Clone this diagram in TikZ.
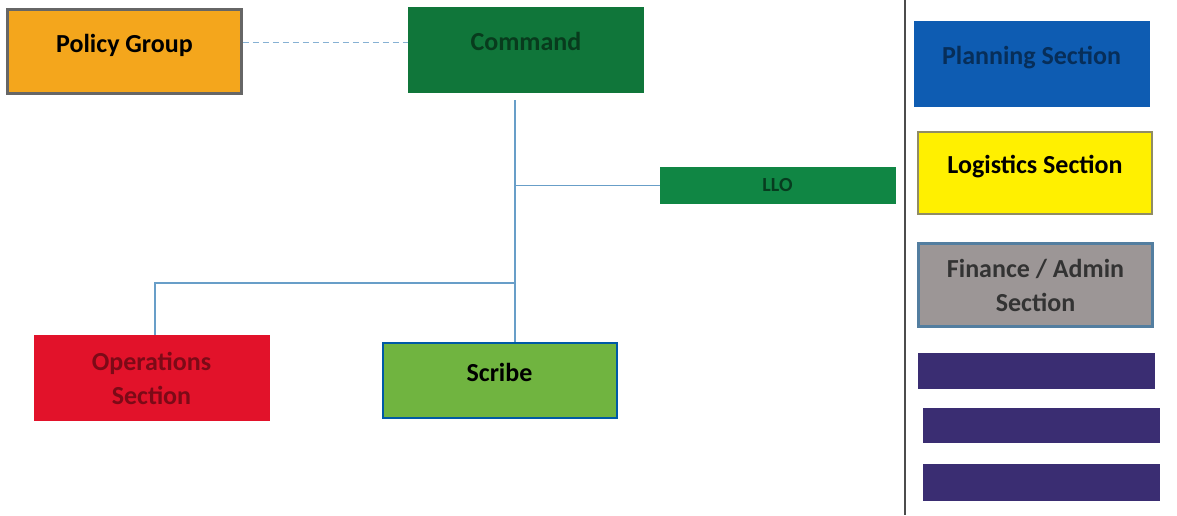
\documentclass[tikz,border=0pt]{standalone}
\usepackage{fontspec}
\setmainfont{Carlito}
\usepackage{tikz}
\usetikzlibrary{calc}
\definecolor{policyfill}{RGB}{244, 166, 28}
\definecolor{cmdgreen}{RGB}{16, 118, 58}
\definecolor{liogreen}{RGB}{16, 134, 68}
\definecolor{opsred}{RGB}{226, 18, 42}
\definecolor{scribegreen}{RGB}{112, 180, 64}
\definecolor{planblue}{RGB}{14, 92, 178}
\definecolor{logyellow}{RGB}{255, 240, 0}
\definecolor{fingray}{RGB}{156, 150, 150}
\definecolor{barpurple}{RGB}{58, 45, 114}
\definecolor{linkblue}{RGB}{104, 158, 200}

\begin{document}
\begin{tikzpicture}[x=0.5pt, y=-0.5pt,
    box/.style={minimum width=117pt, minimum height=42pt, inner sep=2pt,
      align=center, font=\fontsize{13}{17}\selectfont\bfseries, line width=1pt},
    lift/.style={text height=9pt, text depth=8.5pt},
    bar/.style={minimum width=118pt, minimum height=17.5pt, inner sep=0pt,
      fill=barpurple, draw=barpurple},
    link/.style={draw=linkblue, line width=0.9pt}]

  \useasboundingbox (0, 0) rectangle (1177, 515);

  % left side
  \node[box, lift, fill=policyfill, draw=gray!80!black, line width=1.4pt] (policy) at (124.5, 51.5) {Policy Group};
  \node[box, lift, fill=cmdgreen, draw=cmdgreen, text=black!50!cmdgreen] (command) at (526, 49.5) {Command};
  \node[box, minimum height=17.5pt, fill=liogreen, draw=liogreen, text=black!55!liogreen,
    font=\fontsize{10}{12}\selectfont\bfseries] (lio) at (777.5, 185.5) {LLO};
  \node[box, fill=opsred, draw=opsred, text=black!45!opsred] (ops) at (151.5, 378) {Operations\\Section};
  \node[box, lift, minimum height=37.5pt, fill=scribegreen, draw=teal!70!blue] (scribe) at (499.5, 380.5) {Scribe};

  \coordinate (trunk) at (515, 100);
  \coordinate (opsjoin) at (515, 283);

  \draw[link, linkblue!80, dashed, dash pattern=on 3pt off 2pt] ([yshift=4.5pt]policy.east) -- ([yshift=4.5pt]policy.east -| command.west);
  \draw[link] (trunk) -- (trunk |- scribe.north);
  \draw[link] (trunk |- lio.west) -- (lio.west);
  \draw[link] (opsjoin) -| ($(ops.north)+(3.5, 0)$);

  % right side
  \draw[gray!60!black, line width=1.2pt] (905, 0) -- (905, 515);

  \node[box, lift, fill=planblue, draw=planblue, text=black!50!planblue] (planning) at (1031.5, 63.5) {Planning Section};
  \node[box, lift, minimum height=41pt, fill=logyellow, draw=gray!70!olive, line width=1.2pt] (logistics) at (1035, 173) {Logistics Section};
  \node[box, minimum height=41.5pt, fill=fingray, draw=linkblue!80!black, line width=1.2pt, text=black!80] (finance) at (1035.5, 285) {Finance / Admin\\Section};
  \node[bar] (barA) at (1036.5, 370.5) {};
  \node[bar, minimum height=17pt] (barB) at (1041, 425) {};
  \node[bar, minimum height=18pt] (barC) at (1041, 482) {};
\end{tikzpicture}
\end{document}
